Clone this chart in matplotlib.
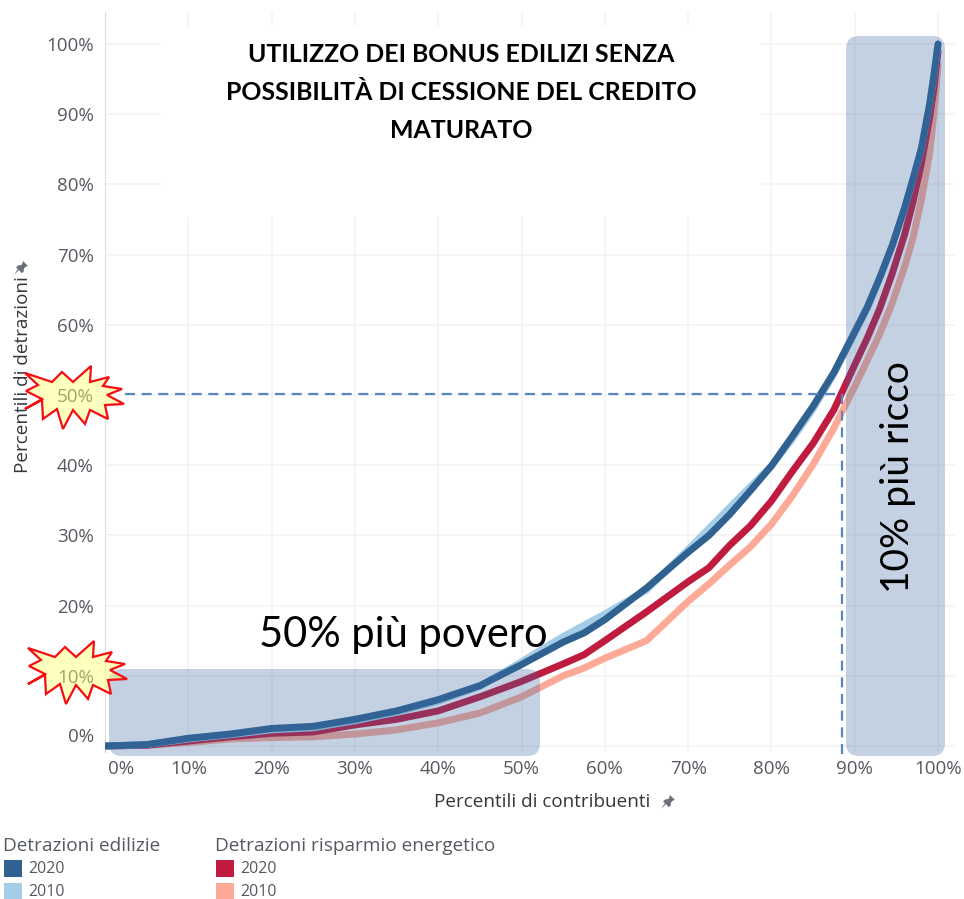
import matplotlib
matplotlib.use("Agg")
import matplotlib.pyplot as plt
from matplotlib.patches import FancyBboxPatch, Polygon, Rectangle
from matplotlib.transforms import ScaledTranslation

W, H = 964, 899

# Dati
percentili = [0, 5, 10, 15, 20, 25, 30, 35, 40, 45, 50, 55, 57.5, 60, 65, 70, 72.5, 75, 77.5, 80, 82.5, 85, 87.5, 90, 91.5, 93, 94.5, 96, 97, 98, 99, 99.5, 100]
edilizie_2020 = [0, 0.2, 1.1, 1.7, 2.5, 2.8, 3.8, 5.0, 6.6, 8.6, 11.6, 14.8, 16.1, 18.0, 22.5, 27.6, 30.0, 33.0, 36.4, 39.9, 44.1, 48.4, 53.2, 59.0, 62.5, 66.7, 71.3, 76.7, 80.8, 85.1, 91.5, 95.5, 100]
edilizie_2010 = [0, 0.2, 1.0, 1.6, 2.3, 2.6, 3.6, 4.8, 6.4, 8.5, 12.0, 15.6, 17.2, 18.8, 22.2, 28.0, 31.0, 34.0, 37.0, 39.9, 43.7, 48.0, 53.0, 58.8, 62.3, 66.6, 71.2, 76.6, 80.8, 85.1, 91.5, 95.5, 100]
energetico_2020 = [0, 0.1, 0.7, 1.3, 1.8, 2.0, 3.0, 3.8, 5.0, 7.0, 9.2, 11.7, 13.0, 15.0, 19.1, 23.4, 25.4, 28.6, 31.4, 34.9, 39.1, 43.1, 47.9, 54.3, 58.1, 62.3, 67.3, 72.9, 77.5, 83.0, 89.6, 93.6, 99]
energetico_2010 = [0, 0.1, 0.5, 1.0, 1.2, 1.3, 1.7, 2.3, 3.3, 4.7, 7.0, 10.0, 11.1, 12.5, 15.0, 20.6, 23.1, 25.8, 28.4, 31.6, 35.6, 40.1, 45.3, 51.2, 54.9, 58.7, 63.1, 68.3, 72.4, 77.8, 84.5, 90.0, 97]
ticks = list(range(0, 101, 10))

BLU = "#2f6191"
AZZURRO = "#a5cde8"
ROSSO = "#c01a3e"
SALMONE = "#fda997"
TESTO = "#555a60"
FONT_TABLEAU = ['Open Sans', 'DejaVu Sans']
FONT_PPT = ['Lato', 'DejaVu Sans']

plt.rcParams['font.family'] = FONT_TABLEAU

fig = plt.figure(figsize=(W / 100, H / 100), dpi=100, facecolor="white")

# Assi: 0% = px 104 / 746, 100% = px 938 / 44
left, right, top, bottom = 105, 955, 12, 752
ax = fig.add_axes([left / W, 1 - bottom / H, (right - left) / W, (bottom - top) / H])
ax.set_xlim((left - 104) / 8.34, (right - 104) / 8.34)
ax.set_ylim((746 - bottom) / 7.02, (746 - top) / 7.02)

ax.plot(percentili, energetico_2010, color=SALMONE, lw=5, solid_capstyle="round", zorder=3)
ax.plot(percentili, energetico_2020, color=ROSSO, lw=5, solid_capstyle="round", zorder=4)
ax.plot(percentili, edilizie_2010, color=AZZURRO, lw=5, solid_capstyle="round", zorder=5)
ax.plot(percentili, edilizie_2020, color=BLU, lw=5, solid_capstyle="round", zorder=6)

ax.set_xticks(ticks)
ax.set_yticks(ticks)
ax.set_xticklabels([f"{t}%" for t in ticks])
ax.set_yticklabels([f"{t}%" for t in ticks])
ax.grid(True, color="#f3f3f4", lw=1.2)
ax.set_axisbelow(True)
ax.tick_params(length=0, labelsize=13.5, labelcolor=TESTO, pad=6)
ax.tick_params(axis="y", pad=8)
for s in ["top", "right", "bottom"]:
    ax.spines[s].set_visible(False)
ax.spines["left"].set_color("#d8d8d8")
ax.spines["left"].set_linestyle(":")

# lo 0% nel riferimento e' spostato rispetto alla griglia
lab = ax.get_xticklabels()[0]
lab.set_transform(lab.get_transform() + ScaledTranslation(16 / 100, 0, fig.dpi_scale_trans))
lab = ax.get_yticklabels()[0]
lab.set_transform(lab.get_transform() + ScaledTranslation(0, 11 / 100, fig.dpi_scale_trans))

# Livello annotazioni in pixel dell'immagine
ov = fig.add_axes([0, 0, 1, 1], facecolor="none")
ov.set_xlim(0, W)
ov.set_ylim(H, 0)
ov.axis("off")

ov.add_patch(Rectangle((161, 26), 600, 191, fc="white", ec="none", zorder=1))

for x0, y0, x1, y1 in [(109, 669, 540, 756), (846, 36, 945, 756)]:
    r = 13
    ov.add_patch(FancyBboxPatch((x0 + r, y0 + r), x1 - x0 - 2 * r, y1 - y0 - 2 * r,
                                boxstyle=f"round,pad={r},rounding_size={r}",
                                fc="#3a69a2", ec="none", alpha=0.3, zorder=2))

ov.plot([125, 842], [394, 394], color="#5a86bf", lw=1.6, ls=(0, (4.5, 3)), zorder=3)
ov.plot([842, 842], [394, 756], color="#5a86bf", lw=1.6, ls=(0, (4.5, 3)), zorder=3)

# Stelle gialle
stella = [(-48, -24), (-21, -15), (-11, -25), (0, -15), (18, -31), (17, -15), (36, -20), (30, -11),
          (49, -8), (34, -2), (51, 7), (32, 8), (35, 22), (17, 13), (12, 27), (0, 13), (-10, 32),
          (-16, 12), (-30, 22), (-31, 3), (-48, 12), (-31, 2), (-47, -6), (-35, -12)]
for cx, cy in [(73, 397), (76, 672)]:
    ov.add_patch(Polygon([(cx + dx, cy + dy) for dx, dy in stella], closed=True, fc="#ffff70",
                         ec="none", alpha=0.45, zorder=4))
    ov.add_patch(Polygon([(cx + dx, cy + dy) for dx, dy in stella], closed=True, fc="none",
                         ec="#f50d12", lw=1.6, joinstyle="miter", zorder=5))

# Titolo e scritte
for y, riga in [(55, "UTILIZZO DEI BONUS EDILIZI SENZA"), (93, "POSSIBILITÀ DI CESSIONE DEL CREDITO"), (131, "MATURATO")]:
    ov.text(461, y, riga, ha="center", va="center", fontsize=17.9, fontweight="bold", color="black", family=FONT_PPT, zorder=6)
ov.text(403, 635, "50% più povero", ha="center", va="center", fontsize=30, color="black", family=FONT_PPT, zorder=6)
ov.text(898, 477, "10% più ricco", ha="center", va="center", rotation=90, fontsize=28, color="black", family=FONT_PPT, zorder=6)

ov.text(542, 802, "Percentili di contribuenti", ha="center", va="center", fontsize=13.6, color="#33373c", zorder=3)
ov.text(23, 375, "Percentili di detrazioni", ha="center", va="center", rotation=90, fontsize=13.6, color="#33373c", zorder=3)


def puntina(x, y):
    # piccola puntina accanto al titolo dell'asse
    forma = [(2, -7), (7, -2), (5, -1.5), (3, 0.5), (2.5, 4), (0.5, 5), (-2, 2), (-7, 7), (-3, 1),
             (-5, -0.5), (-3, -2.5), (0.5, -3), (1.5, -5)]
    ov.add_patch(Polygon([(x + dx, y + dy) for dx, dy in forma], closed=True, fc="#6b7078", ec="none", zorder=3))


puntina(668, 802)
puntina(21, 268)

# Legenda
voci = [(3, "Detrazioni edilizie", BLU, AZZURRO), (215, "Detrazioni risparmio energetico", ROSSO, SALMONE)]
for x, titolo, c20, c10 in voci:
    ov.text(x, 846, titolo, ha="left", va="center", fontsize=13.7, color=TESTO)
    ov.add_patch(Rectangle((x + 1, 860), 18, 17, fc=c20, ec="none"))
    ov.add_patch(Rectangle((x + 1, 883), 18, 16, fc=c10, ec="none"))
    ov.text(x + 25, 869, "2020", ha="left", va="center", fontsize=11.5, color=TESTO)
    ov.text(x + 25, 892, "2010", ha="left", va="center", fontsize=11.5, color=TESTO)

fig.savefig("out.png", dpi=100)
